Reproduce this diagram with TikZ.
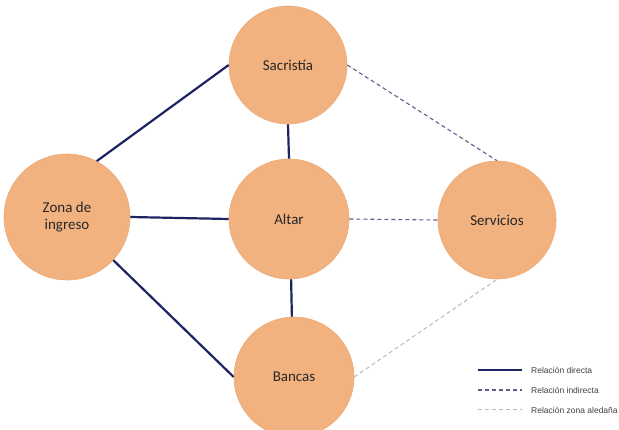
\documentclass[tikz,border=0pt]{standalone}
\usepackage{fontspec}
\setmainfont{Carlito}
\newfontfamily\legfont{Liberation Sans}
\definecolor{zonefill}{RGB}{242,178,128}
\definecolor{zoneedge}{RGB}{236,170,118}
\definecolor{direct}{RGB}{30,35,100}
\definecolor{indirect}{RGB}{105,90,140}
\definecolor{nearby}{RGB}{185,185,190}
\begin{document}
\begin{tikzpicture}[x=1pt,y=-1pt,
  zone/.style={circle,fill=zonefill,draw=zoneedge,line width=0.6pt,minimum size=#1,inner sep=0pt,align=center,font=\fontsize{15}{17}\selectfont,text=black!85},
  directrel/.style={draw=direct,line width=2.2pt},
  indirectrel/.style={draw=indirect,line width=1.1pt,dash pattern=on 4pt off 3pt},
  nearbyrel/.style={draw=nearby,line width=1pt,dash pattern=on 4pt off 3pt},
  leg/.style={anchor=west,font=\legfont\fontsize{8.5}{10}\selectfont,text=black!75,inner sep=0pt}]
\useasboundingbox (0,0) rectangle (619,430);
\node[zone=118pt] (sac) at (288,65) {Sacristía};
\node[zone=126pt] (zona) at (67,217) {Zona de\\ingreso};
\node[zone=120pt] (alt) at (289,219) {Altar};
\node[zone=118pt] (ser) at (497,220) {Servicios};
\node[zone=120pt] (ban) at (294,377) {Bancas};
\draw[directrel] (zona.62) -- (sac.180);
\draw[directrel] (zona.east) -- (alt.west);
\draw[directrel] (zona.-43) -- (ban.180);
\draw[directrel] (sac.-90) -- (alt.90);
\draw[directrel] (alt.-88) -- (ban.92);
\draw[indirectrel] (sac.0) -- (ser.90);
\draw[indirectrel] (alt.0) -- (ser.180);
\draw[nearbyrel] (ban.0) -- (ser.-90);
\coordinate (l1a) at (478,370); \coordinate (l1b) at (522,370);
\coordinate (l2a) at (478,390); \coordinate (l2b) at (522,390);
\coordinate (l3a) at (478,410); \coordinate (l3b) at (522,410);
\draw[directrel] (l1a) -- (l1b);
\draw[indirectrel] (l2a) -- (l2b);
\draw[nearbyrel] (l3a) -- (l3b);
\node[leg] (t1) at (531,370) {Relación directa};
\node[leg] (t2) at (531,390) {Relación indirecta};
\node[leg] (t3) at (531,410) {Relación zona aledaña};
\end{tikzpicture}
\end{document}
